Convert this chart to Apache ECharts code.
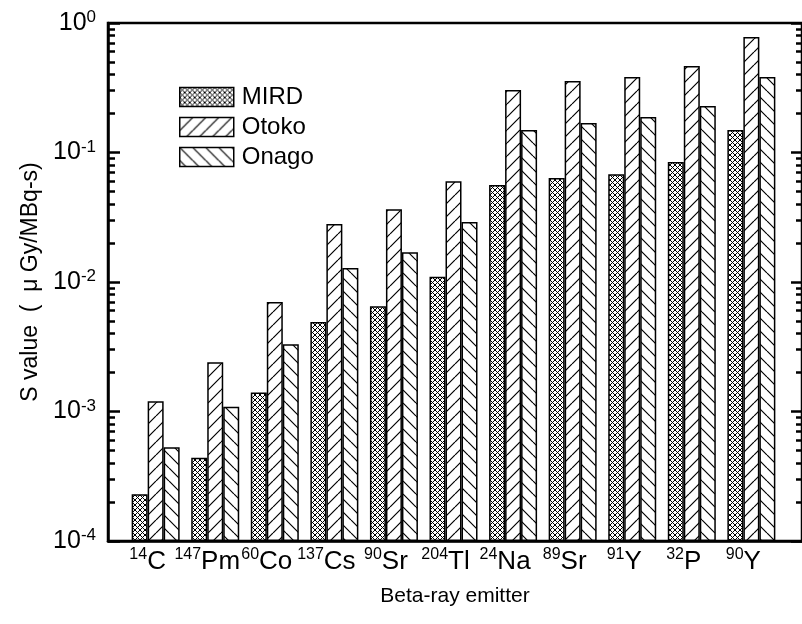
<!DOCTYPE html>
<html>
<head>
<meta charset="utf-8">
<script src="https://cdn.jsdelivr.net/npm/echarts@6/dist/echarts.min.js"></script>
<style>
    html, body { margin: 0; padding: 0; background: #fff; }
    #chart { width: 802px; height: 624px; }
</style>
</head>
<body>
<div id="chart"></div>
<script>
// 数据
var massNumbers = ['14', '147', '60', '137', '90', '204', '24', '89', '91', '32', '90'];
var elements = ['C', 'Pm', 'Co', 'Cs', 'Sr', 'Tl', 'Na', 'Sr', 'Y', 'P', 'Y'];
var mirdData = [0.00023, 0.00044, 0.0014, 0.0049, 0.0065, 0.011, 0.056, 0.0635, 0.068, 0.0845, 0.149];
var otokoData = [0.0012, 0.0024, 0.0070, 0.028, 0.0365, 0.060, 0.304, 0.357, 0.383, 0.466, 0.78];
var onagoData = [0.00053, 0.00109, 0.0033, 0.0128, 0.017, 0.029, 0.149, 0.169, 0.188, 0.229, 0.383];

var FONT = 'Liberation Sans, Arial, sans-serif';

// 斜线填充图案
function hatch(kind, size, lw) {
    var c = document.createElement('canvas');
    c.width = size; c.height = size;
    var g = c.getContext('2d');
    g.fillStyle = '#fff';
    g.fillRect(0, 0, size, size);
    g.strokeStyle = '#000';
    g.lineWidth = lw;
    g.beginPath();
    [-size, 0, size].forEach(function (o) {
        if (kind.indexOf('/') >= 0) { g.moveTo(o, size); g.lineTo(o + size, 0); }
        if (kind.indexOf('\\') >= 0) { g.moveTo(o, 0); g.lineTo(o + size, size); }
    });
    g.stroke();
    return { image: c, repeat: 'repeat' };
}

// 次刻度 2..9 x 10^n
var minorTicks = [];
for (var d = -4; d < 0; d++) {
    for (var k = 2; k <= 9; k++) minorTicks.push(k * Math.pow(10, d));
}

function toPairs(arr) {
    return arr.map(function (v, i) { return [i + 1, v]; });
}

var chart = echarts.init(document.getElementById('chart'));

var yBase = {
    type: 'log',
    logBase: 10,
    min: 0.0001,
    max: 1,
    startValue: 0.0001,
    splitLine: { show: false }
};

chart.setOption({
    animation: false,
    grid: {
        left: 108, top: 23, right: -1, bottom: 83,
        show: true, borderColor: '#000', borderWidth: 2.5
    },
    legend: {
        orient: 'vertical',
        left: 174, top: 80,
        itemWidth: 54, itemHeight: 19, itemGap: 6,
        icon: 'rect',
        itemStyle: { borderColor: '#000', borderWidth: 1.5 },
        textStyle: { fontSize: 24, lineHeight: 24, color: '#000', fontFamily: FONT, padding: [0, 0, 0, 3] },
        data: ['MIRD', 'Otoko', 'Onago']
    },
    xAxis: {
        type: 'value',
        min: 0.2,
        max: 11.85,
        splitLine: { show: false },
        axisTick: { show: false },
        axisLine: { lineStyle: { color: '#000', width: 2.5 } },
        axisLabel: {
            customValues: massNumbers.map(function (m, i) { return i + 1; }),
            margin: 6,
            padding: [0, 16, 0, 0],
            formatter: function (v) {
                var i = Math.round(v) - 1;
                return '{s|' + massNumbers[i] + '}{b|' + elements[i] + '}';
            },
            rich: {
                s: { fontSize: 16, fontFamily: FONT, color: '#000', verticalAlign: 'top', lineHeight: 16 },
                b: { fontSize: 26, fontFamily: FONT, color: '#000', lineHeight: 30 }
            }
        },
        name: 'Beta-ray emitter',
        nameLocation: 'middle',
        nameGap: 45,
        nameTextStyle: { fontSize: 21, color: '#000', fontFamily: FONT }
    },
    yAxis: [
        Object.assign({}, yBase, {
            position: 'left',
            axisLine: { show: true, lineStyle: { color: '#000', width: 2.5 } },
            axisTick: { inside: true, length: 12, lineStyle: { color: '#000', width: 2.5 } },
            axisLabel: {
                margin: 12,
                formatter: function (v) {
                    return '{b|10}{s|' + Math.round(Math.log10(v)) + '}';
                },
                rich: {
                    b: { fontSize: 25, fontFamily: FONT, color: '#000', lineHeight: 28 },
                    s: { fontSize: 17, fontFamily: FONT, color: '#000', verticalAlign: 'top', lineHeight: 17 }
                }
            },
            name: 'S value  (  μ Gy/MBq-s)',
            nameLocation: 'middle',
            nameGap: 64,
            nameTextStyle: { fontSize: 23, color: '#000', fontFamily: FONT }
        }),
        Object.assign({}, yBase, {
            position: 'left',
            axisLine: { show: false },
            axisLabel: { show: false },
            axisTick: { inside: true, length: 7, customValues: minorTicks, lineStyle: { color: '#000', width: 2.5 } }
        }),
        Object.assign({}, yBase, {
            position: 'right',
            axisLine: { show: false },
            axisLabel: { show: false },
            axisTick: { inside: true, length: 11, lineStyle: { color: '#000', width: 2.5 } }
        }),
        Object.assign({}, yBase, {
            position: 'right',
            axisLine: { show: false },
            axisLabel: { show: false },
            axisTick: { inside: true, length: 6, customValues: minorTicks, lineStyle: { color: '#000', width: 2.5 } }
        })
    ],
    series: [
        {
            name: 'MIRD', type: 'bar', barWidth: 16, barGap: '0%',
            itemStyle: { color: hatch('/\\', 5, 1), borderColor: '#000', borderWidth: 1.5 },
            data: toPairs(mirdData)
        },
        {
            name: 'Otoko', type: 'bar', barWidth: 16, barGap: '0%',
            itemStyle: { color: hatch('/', 13, 1.2), borderColor: '#000', borderWidth: 1.5 },
            data: toPairs(otokoData)
        },
        {
            name: 'Onago', type: 'bar', barWidth: 16, barGap: '0%',
            itemStyle: { color: hatch('\\', 13, 1.2), borderColor: '#000', borderWidth: 1.5 },
            data: toPairs(onagoData)
        }
    ]
});
</script>
</body>
</html>
